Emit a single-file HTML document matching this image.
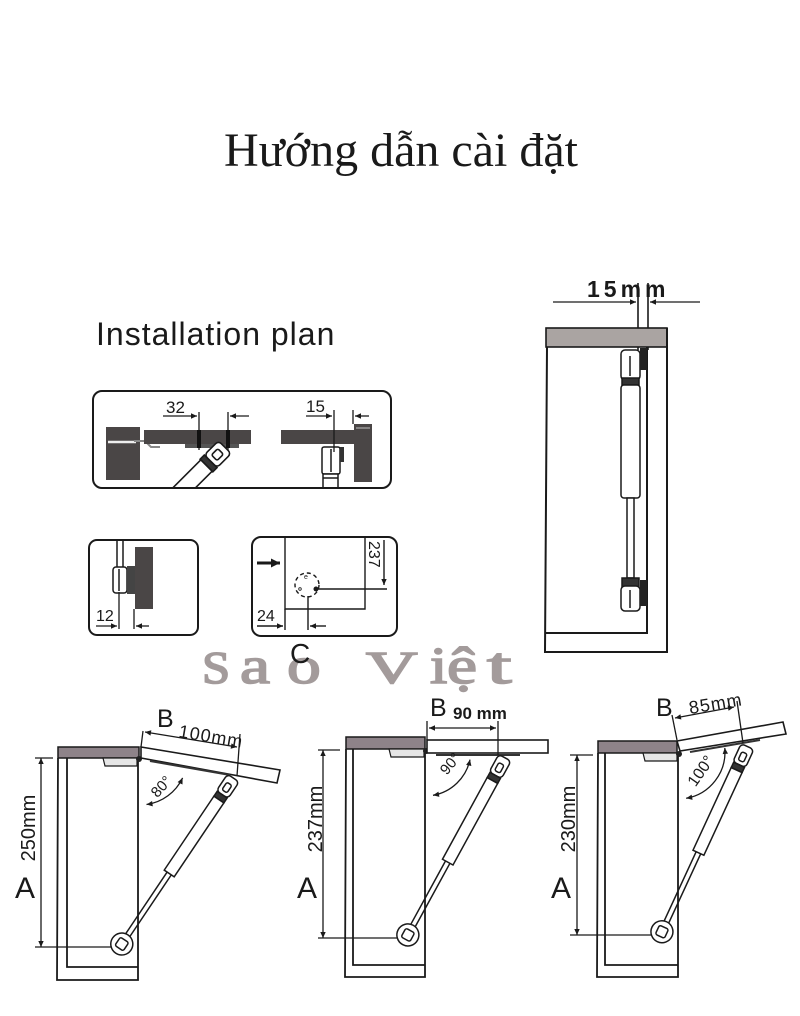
<!DOCTYPE html>
<html><head><meta charset="utf-8">
<style>
html,body{margin:0;padding:0;background:#fff;}
svg{display:block;}
text{font-family:"Liberation Sans",sans-serif;fill:#1a1a1a;}
</style></head><body>
<svg width="800" height="1016" viewBox="0 0 800 1016" xmlns="http://www.w3.org/2000/svg">
<defs>
<marker id="ar" viewBox="0 0 10 10" refX="10" refY="5" markerWidth="8" markerHeight="6" markerUnits="userSpaceOnUse" orient="auto-start-reverse"><path d="M0,0.5 L10,5 L0,9.5 z" fill="#1a1a1a"/></marker>
<marker id="arB" viewBox="0 0 10 10" refX="10" refY="5" markerWidth="10" markerHeight="9" markerUnits="userSpaceOnUse" orient="auto"><path d="M0,0 L10,5 L0,10 z" fill="#1a1a1a"/></marker>
<clipPath id="cb1"><rect x="94" y="392" width="296" height="95" rx="8"/></clipPath>
</defs>

<!-- Title -->
<text x="224" y="166" style="font-family:'Liberation Serif',serif" font-size="48" fill="#111">Hướng dẫn cài đặt</text>

<!-- Installation plan -->
<text x="96" y="345" font-size="32" letter-spacing="1" fill="#222">Installation plan</text>

<!-- Box 1 -->
<rect x="93" y="391" width="298" height="97" rx="9" stroke="#1a1a1a" stroke-width="2" fill="none"/>
<g clip-path="url(#cb1)">
  <rect x="106" y="427" width="34" height="53" fill="#4a4646"/>
  <line x1="108" y1="442" x2="136" y2="442" stroke="#eee" stroke-width="2.5"/>
  <path d="M134,441 L145,441 L151,447 L160,447" stroke="#888" stroke-width="2" fill="none"/>
  <rect x="144" y="430" width="107" height="14" fill="#4a4646"/>
  <rect x="185" y="444" width="54" height="4" fill="#555"/>
  <g transform="translate(222,450) rotate(135)" stroke="#1a1a1a" stroke-width="1.6" fill="#fff">
    <rect x="-4" y="-9" width="20" height="18" rx="4"/>
    <rect x="2" y="-4" width="9" height="8" rx="2"/>
    <rect x="16" y="-9" width="6" height="18" fill="#333"/>
    <rect x="22" y="-8" width="50" height="16"/>
  </g>
  <rect x="281" y="430" width="91" height="14" fill="#4a4646"/>
  <rect x="354" y="424" width="18" height="58" fill="#4a4646"/>
  <line x1="356" y1="428" x2="370" y2="428" stroke="#999" stroke-width="1.5"/>
  <g stroke="#1a1a1a" stroke-width="1.5" fill="#fff">
    <rect x="322" y="447" width="18" height="27" rx="2"/>
    <line x1="331" y1="449" x2="331" y2="472"/>
    <rect x="323" y="474" width="15" height="16"/>
    <line x1="323" y1="478" x2="338" y2="478"/>
  </g>
  <rect x="340" y="447" width="4" height="15" fill="#333"/>
</g>
<g stroke="#1a1a1a" stroke-width="1.3" fill="none">
  <line x1="199" y1="412" x2="199" y2="450"/>
  <line x1="228" y1="412" x2="228" y2="450"/>
  <line x1="163" y1="416" x2="197" y2="416" marker-end="url(#ar)"/>
  <line x1="249" y1="416" x2="230" y2="416" marker-end="url(#ar)"/>
  <line x1="334" y1="410" x2="334" y2="452"/>
  <line x1="353" y1="410" x2="353" y2="424"/>
  <line x1="306" y1="416" x2="332" y2="416" marker-end="url(#ar)"/>
  <line x1="369" y1="416" x2="355" y2="416" marker-end="url(#ar)"/>
</g>
<rect x="197" y="430" width="4" height="18" fill="#111"/>
<rect x="226" y="430" width="4" height="18" fill="#111"/>
<text x="166" y="413" font-size="17">32</text>
<text x="306" y="412" font-size="17">15</text>

<!-- Box 2 left -->
<rect x="89" y="540" width="109" height="95" rx="8" stroke="#1a1a1a" stroke-width="2" fill="none"/>
<rect x="135" y="547" width="18" height="62" fill="#4a4646"/>
<g stroke="#1a1a1a" stroke-width="1.5" fill="#fff">
  <line x1="117" y1="541" x2="117" y2="567"/>
  <line x1="123" y1="541" x2="123" y2="567"/>
  <rect x="113" y="567" width="14" height="26" rx="3"/>
  <line x1="119" y1="569" x2="119" y2="591"/>
</g>
<rect x="127" y="566" width="8" height="28" fill="#444"/>
<g stroke="#1a1a1a" stroke-width="1.3" fill="none">
  <line x1="119" y1="592" x2="119" y2="629"/>
  <line x1="134" y1="609" x2="134" y2="629"/>
  <line x1="96" y1="626" x2="117" y2="626" marker-end="url(#ar)"/>
  <line x1="149" y1="626" x2="136" y2="626" marker-end="url(#ar)"/>
</g>
<text x="96" y="621" font-size="16">12</text>

<!-- Box 2 right -->
<rect x="252" y="537" width="145" height="99" rx="9" stroke="#1a1a1a" stroke-width="2" fill="none"/>
<g stroke="#1a1a1a" stroke-width="1.4" fill="none">
  <polyline points="285,537 285,609 365,609 365,537"/>
  <circle cx="307" cy="585" r="12" stroke-dasharray="4 3"/>
  <line x1="316" y1="589" x2="387" y2="589"/>
  <line x1="384" y1="540" x2="384" y2="585" marker-end="url(#ar)"/>
  <line x1="308" y1="596" x2="308" y2="630"/>
  <line x1="285" y1="609" x2="285" y2="630"/>
  <line x1="257" y1="626" x2="283" y2="626" marker-end="url(#ar)"/>
  <line x1="326" y1="626" x2="310" y2="626" marker-end="url(#ar)"/>
  <line x1="257" y1="563" x2="280" y2="563" stroke-width="3" marker-end="url(#arB)"/>
</g>
<circle cx="316" cy="589" r="2.5" fill="#1a1a1a"/>
<circle cx="300" cy="589" r="1.3" fill="none" stroke="#1a1a1a" stroke-width="0.8"/>
<text x="304" y="579" font-size="7">e</text>
<text transform="translate(369,541) rotate(90)" font-size="16">237</text>
<text x="257" y="621" font-size="16">24</text>

<!-- Right cabinet -->
<text x="587" y="297" font-size="23" font-weight="bold" letter-spacing="4">15mm</text>
<g stroke="#1a1a1a" stroke-width="1.3" fill="none">
  <line x1="553" y1="302" x2="636" y2="302" marker-end="url(#ar)"/>
  <line x1="700" y1="302" x2="650" y2="302" marker-end="url(#ar)"/>
  <line x1="638" y1="283" x2="638" y2="350" stroke-width="1.6"/>
  <line x1="648" y1="283" x2="648" y2="350" stroke-width="1.6"/>
</g>
<rect x="546" y="328" width="121" height="19" fill="#aaa4a2" stroke="#1a1a1a" stroke-width="1.6"/>
<g stroke="#1a1a1a" stroke-width="2" fill="none">
  <polyline points="547,347 545,652 667,652 667,328"/>
  <polyline points="647,347 647,633 546,633"/>
</g>
<g stroke="#1a1a1a" stroke-width="1.5" fill="#fff">
  <rect x="621" y="350" width="19" height="30" rx="4"/>
  <line x1="630" y1="356" x2="630" y2="376"/>
  <rect x="622" y="378" width="17" height="7" fill="#333"/>
  <rect x="621" y="385" width="19" height="113" rx="3"/>
  <rect x="627" y="498" width="7" height="80"/>
  <rect x="622" y="578" width="17" height="10" fill="#333"/>
  <rect x="621" y="586" width="19" height="25" rx="4"/>
  <line x1="630" y1="590" x2="630" y2="608"/>
</g>
<rect x="640" y="348" width="7" height="22" fill="#222"/>
<rect x="640" y="580" width="7" height="26" fill="#222"/>

<!-- Watermark -->
<g style="font-family:'Liberation Serif',serif">
  <text transform="translate(202,683) scale(1.1,1)" font-size="46" style="font-family:'Liberation Serif',serif;fill:#a39b9b;stroke:#a39b9b;stroke-width:1.6">S</text>
  <text transform="translate(240,683) scale(1.3,1)" font-size="52" style="font-family:'Liberation Serif',serif;fill:#a39b9b;stroke:#a39b9b;stroke-width:1.6">a</text>
  <text transform="translate(287,683) scale(1.3,1)" font-size="52" style="font-family:'Liberation Serif',serif;fill:#a39b9b;stroke:#a39b9b;stroke-width:1.6">o</text>
  <text transform="translate(366,683) scale(1.55,1)" font-size="46" style="font-family:'Liberation Serif',serif;fill:#a39b9b;stroke:#a39b9b;stroke-width:1.6">V</text>
  <text transform="translate(430,683) scale(1.2,1)" font-size="52" style="font-family:'Liberation Serif',serif;fill:#a39b9b;stroke:#a39b9b;stroke-width:1.6">i</text>
  <text transform="translate(447,683) scale(1.3,1)" font-size="52" style="font-family:'Liberation Serif',serif;fill:#a39b9b;stroke:#a39b9b;stroke-width:1.6">ệ</text>
  <text transform="translate(487,683) scale(1.7,1)" font-size="52" style="font-family:'Liberation Serif',serif;fill:#a39b9b;stroke:#a39b9b;stroke-width:1.6">t</text>
</g>
<text x="290" y="663" font-size="28">C</text>

<!-- ===== Diagram 1 (80°) ===== -->
<rect x="58" y="747" width="81" height="11" fill="#8e8389" stroke="#1a1a1a" stroke-width="1.5"/>
<g stroke="#1a1a1a" stroke-width="1.8" fill="none">
  <polyline points="58,758 57,980 138,980 138,758"/>
  <polyline points="67,758 67,967 138,967"/>
</g>
<polygon points="103,758 137,758 137,766 105,766" fill="#e6e6e6" stroke="#1a1a1a" stroke-width="1.2"/>
<circle cx="139" cy="759" r="3" fill="#222"/>
<polygon points="141,747 280,770 277,783 141,758" fill="#fff" stroke="#1a1a1a" stroke-width="1.6"/>
<line x1="150" y1="761" x2="230" y2="775" stroke="#333" stroke-width="2"/>
<g stroke="#1a1a1a" stroke-width="1.3" fill="none">
  <line x1="143" y1="731" x2="141" y2="747"/>
  <line x1="240" y1="734" x2="237" y2="776"/>
  <line x1="145" y1="732" x2="237" y2="747" marker-start="url(#ar)" marker-end="url(#ar)"/>
  <path d="M146.5,804.5 A47,47 0 0 0 182.6,777.9" marker-start="url(#ar)" marker-end="url(#ar)"/>
  <line x1="41" y1="758" x2="41" y2="947" marker-start="url(#ar)" marker-end="url(#ar)"/>
  <line x1="35" y1="758" x2="53" y2="758"/>
  <line x1="35" y1="947" x2="116" y2="947"/>
</g>
<g transform="translate(230,783) rotate(123.9)" stroke="#1a1a1a" stroke-width="1.5" fill="#fff">
  <rect x="-6" y="-7" width="20" height="14" rx="4"/>
  <rect x="1" y="-3" width="9" height="6" rx="2"/>
  <rect x="14" y="-6" width="6" height="12" fill="#333"/>
  <rect x="20" y="-6" width="89" height="12"/>
  <line x1="109" y1="-2.5" x2="184" y2="-2.5"/>
  <line x1="109" y1="2.5" x2="184" y2="2.5"/>
  <circle cx="194" cy="0" r="11"/>
  <rect x="189" y="-5" width="10" height="10" rx="2"/>
</g>
<text x="157" y="727" font-size="25">B</text>
<text transform="translate(178,737) rotate(9.5)" font-size="18" letter-spacing="1">100mm</text>
<text transform="translate(165,790) rotate(-48)" font-size="15" text-anchor="middle">80°</text>
<text transform="translate(35,828) rotate(-90)" font-size="20" text-anchor="middle">250mm</text>
<text x="15" y="898" font-size="30">A</text>

<!-- ===== Diagram 2 (90°) ===== -->
<rect x="346" y="737" width="79" height="12" fill="#8e8389" stroke="#1a1a1a" stroke-width="1.5"/>
<g stroke="#1a1a1a" stroke-width="1.8" fill="none">
  <polyline points="346,749 345,977 425,977 425,749"/>
  <polyline points="353,749 353,965 425,965"/>
</g>
<polygon points="389,749 424,749 424,757 391,757" fill="#e6e6e6" stroke="#1a1a1a" stroke-width="1.2"/>
<circle cx="426" cy="751" r="3" fill="#222"/>
<rect x="427" y="740" width="121" height="13" fill="#fff" stroke="#1a1a1a" stroke-width="1.6"/>
<line x1="436" y1="755" x2="520" y2="755" stroke="#333" stroke-width="2"/>
<g stroke="#1a1a1a" stroke-width="1.3" fill="none">
  <line x1="427" y1="721" x2="427" y2="740"/>
  <line x1="498" y1="721" x2="498" y2="755"/>
  <line x1="429" y1="728" x2="496" y2="728" marker-start="url(#ar)" marker-end="url(#ar)"/>
  <path d="M433,795.3 A46,46 0 0 0 470,759.6" marker-start="url(#ar)" marker-end="url(#ar)"/>
  <line x1="323" y1="750" x2="323" y2="938" marker-start="url(#ar)" marker-end="url(#ar)"/>
  <line x1="318" y1="750" x2="340" y2="750"/>
  <line x1="318" y1="938" x2="401" y2="938"/>
</g>
<g transform="translate(502,763) rotate(118.7)" stroke="#1a1a1a" stroke-width="1.5" fill="#fff">
  <rect x="-6" y="-7" width="20" height="14" rx="4"/>
  <rect x="1" y="-3" width="9" height="6" rx="2"/>
  <rect x="14" y="-6" width="6" height="12" fill="#333"/>
  <rect x="20" y="-6" width="93" height="12"/>
  <line x1="113" y1="-2.5" x2="186" y2="-2.5"/>
  <line x1="113" y1="2.5" x2="186" y2="2.5"/>
  <circle cx="196" cy="0" r="11"/>
  <rect x="191" y="-5" width="10" height="10" rx="2"/>
</g>
<text x="430" y="716" font-size="25">B</text>
<text x="453" y="719" font-size="17" font-weight="bold">90 mm</text>
<text transform="translate(454,767) rotate(-50)" font-size="15" text-anchor="middle">90°</text>
<text transform="translate(322,819) rotate(-90)" font-size="20" text-anchor="middle">237mm</text>
<text x="297" y="898" font-size="30">A</text>

<!-- ===== Diagram 3 (100°) ===== -->
<rect x="598" y="741" width="79" height="12" fill="#8e8389" stroke="#1a1a1a" stroke-width="1.5"/>
<g stroke="#1a1a1a" stroke-width="1.8" fill="none">
  <polyline points="598,753 597,977 678,977 678,753"/>
  <polyline points="605,753 605,965 678,965"/>
</g>
<polygon points="643,753 677,753 677,761 645,761" fill="#e6e6e6" stroke="#1a1a1a" stroke-width="1.2"/>
<circle cx="679" cy="754" r="3" fill="#222"/>
<polygon points="677,741 783,722 786,734 680,751" fill="#fff" stroke="#1a1a1a" stroke-width="1.6"/>
<line x1="690" y1="752" x2="760" y2="740" stroke="#333" stroke-width="2"/>
<g stroke="#1a1a1a" stroke-width="1.3" fill="none">
  <line x1="672" y1="715" x2="677" y2="740"/>
  <line x1="737" y1="701" x2="743" y2="743"/>
  <line x1="675" y1="718" x2="734" y2="707" marker-start="url(#ar)" marker-end="url(#ar)"/>
  <path d="M686.2,798.3 A47,47 0 0 0 724.8,747.9" marker-start="url(#ar)" marker-end="url(#ar)"/>
  <line x1="577" y1="755" x2="577" y2="935" marker-start="url(#ar)" marker-end="url(#ar)"/>
  <line x1="570" y1="755" x2="593" y2="755"/>
  <line x1="570" y1="935" x2="654" y2="935"/>
</g>
<g transform="translate(745,752) rotate(114.8)" stroke="#1a1a1a" stroke-width="1.5" fill="#fff">
  <rect x="-6" y="-7" width="20" height="14" rx="4"/>
  <rect x="1" y="-3" width="9" height="6" rx="2"/>
  <rect x="14" y="-6" width="6" height="12" fill="#333"/>
  <rect x="20" y="-6" width="91" height="12"/>
  <line x1="111" y1="-2.5" x2="188" y2="-2.5"/>
  <line x1="111" y1="2.5" x2="188" y2="2.5"/>
  <circle cx="198" cy="0" r="11"/>
  <rect x="193" y="-5" width="10" height="10" rx="2"/>
</g>
<text x="656" y="716" font-size="25">B</text>
<text transform="translate(690,714) rotate(-9.5)" font-size="18" letter-spacing="1">85mm</text>
<text transform="translate(705,774) rotate(-55)" font-size="16" text-anchor="middle">100°</text>
<text transform="translate(575,819) rotate(-90)" font-size="20" text-anchor="middle">230mm</text>
<text x="551" y="898" font-size="30">A</text>
</svg>
</body></html>
